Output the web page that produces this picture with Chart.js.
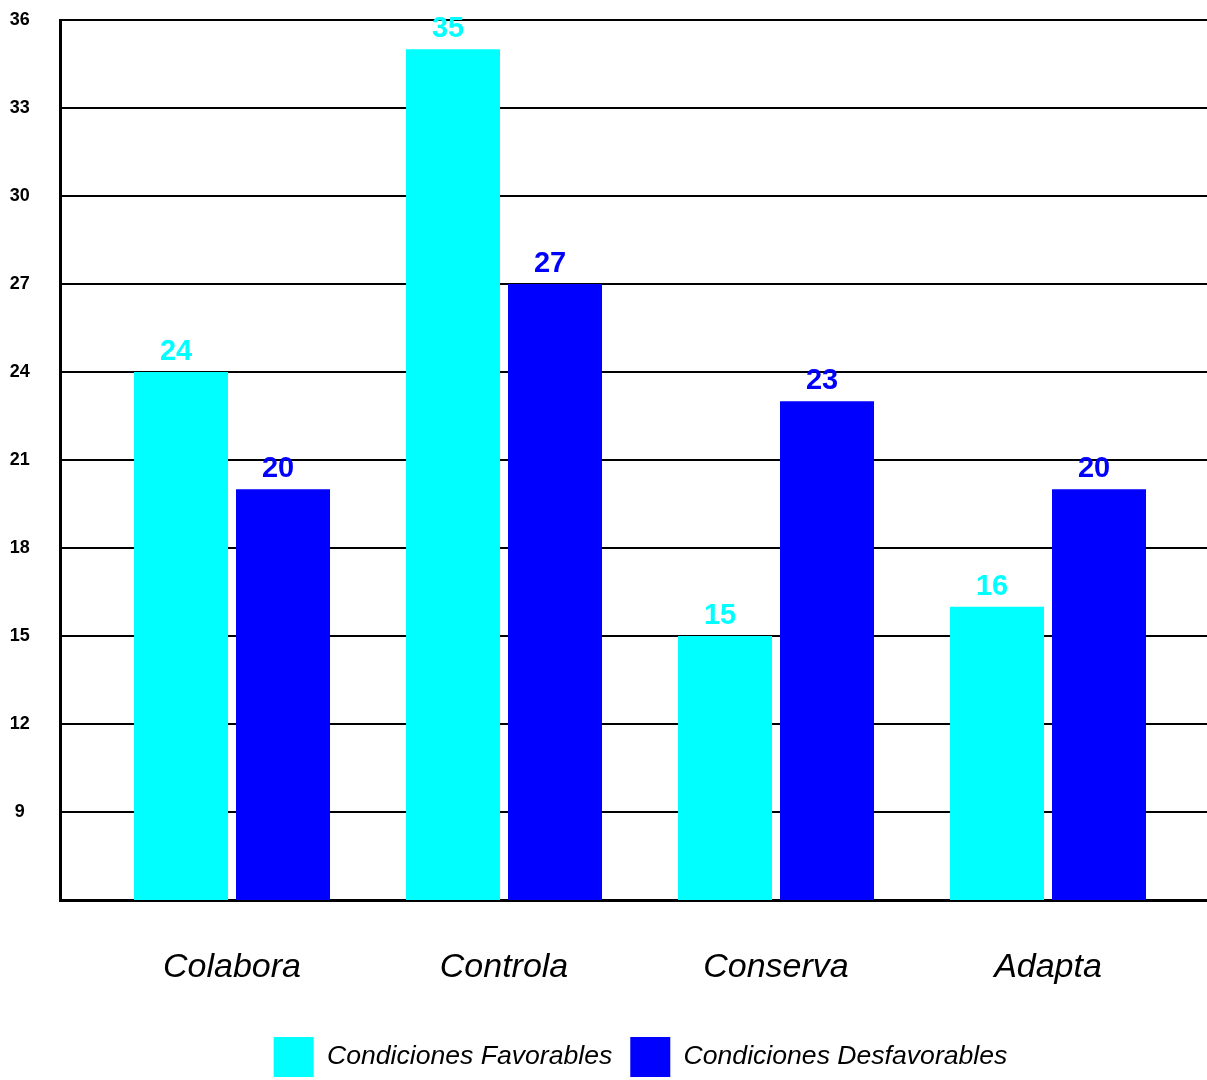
<!DOCTYPE html>
<html>
<head>
<meta charset="utf-8">
<script src="https://cdn.jsdelivr.net/npm/chart.js@4.4.1/dist/chart.umd.min.js"></script>
<style>
html,body{margin:0;padding:0;background:#fff;overflow:hidden;}
#wrap{width:1281px;height:1087px;}
</style>
</head>
<body>
<div id="wrap"><canvas id="c" width="1281" height="1087"></canvas></div>
<script>
const categories = ['Colabora', 'Controla', 'Conserva', 'Adapta'];
const seriesNames = ['Condiciones Favorables', 'Condiciones Desfavorables'];
const favorables = [24, 35, 15, 16];
const desfavorables = [20, 27, 23, 20];
const yTicks = [6, 9, 12, 15, 18, 21, 24, 27, 30, 33, 36];
const seriesColors = ['#00FFFF', '#0000FF'];

const FONT = "'Liberation Sans', Arial, sans-serif";

const toPoints = arr => arr.map((v, i) => ({x: i, y: v}));

const valueLabels = {
  id: 'valueLabels',
  afterDatasetsDraw(chart) {
    const ctx = chart.ctx;
    ctx.save();
    ctx.font = 'bold 29px ' + FONT;
    ctx.textAlign = 'center';
    ctx.textBaseline = 'alphabetic';
    chart.data.datasets.forEach((ds, di) => {
      const meta = chart.getDatasetMeta(di);
      ctx.fillStyle = ds.backgroundColor;
      meta.data.forEach((el, i) => {
        ctx.fillText(String(ds.data[i].y), el.x - 5, el.y - 12);
      });
    });
    ctx.restore();
  }
};

new Chart(document.getElementById('c'), {
  type: 'bar',
  data: {
    datasets: [
      {label: seriesNames[0], data: toPoints(favorables), backgroundColor: seriesColors[0], borderWidth: 0},
      {label: seriesNames[1], data: toPoints(desfavorables), backgroundColor: seriesColors[1], borderWidth: 0}
    ]
  },
  options: {
    responsive: false,
    animation: false,
    categoryPercentage: 0.75,
    barPercentage: 0.9216,
    layout: {padding: {top: 0, right: 0, left: 0, bottom: 0}},
    plugins: {
      tooltip: {enabled: false},
      legend: {
        position: 'bottom',
        labels: {
          boxWidth: 40,
          boxHeight: 40,
          padding: 18,
          color: '#000',
          font: {family: FONT, size: 26.6, style: 'italic'}
        }
      }
    },
    scales: {
      x: {
        type: 'linear',
        offset: false,
        min: -0.6324,
        max: 3.8566,
        grid: {display: false, drawTicks: false},
        border: {display: true, color: '#000', width: 3},
        afterBuildTicks(scale) {
          scale.ticks = categories.map((c, i) => ({value: i}));
        },
        afterFit(scale) { scale.height = 119; },
        ticks: {
          padding: 47,
          color: '#000',
          font: {family: FONT, size: 34, style: 'italic'},
          callback: v => categories[v] ?? ''
        }
      },
      y: {
        min: 6,
        max: 36,
        afterBuildTicks(scale) {
          scale.ticks = yTicks.map(v => ({value: v}));
        },
        afterFit(scale) { scale.width = 60; },
        grid: {color: '#000', lineWidth: 2, drawTicks: true, tickLength: 21, tickColor: 'rgba(0,0,0,0)'},
        border: {display: true, color: '#000', width: 3},
        ticks: {
          padding: 9.2,
          crossAlign: 'center',
          color: '#000',
          font: {family: FONT, size: 18, weight: 'bold'},
          callback: v => (v === 6 ? '' : String(v))
        }
      }
    }
  },
  plugins: [valueLabels]
});
</script>
</body>
</html>
